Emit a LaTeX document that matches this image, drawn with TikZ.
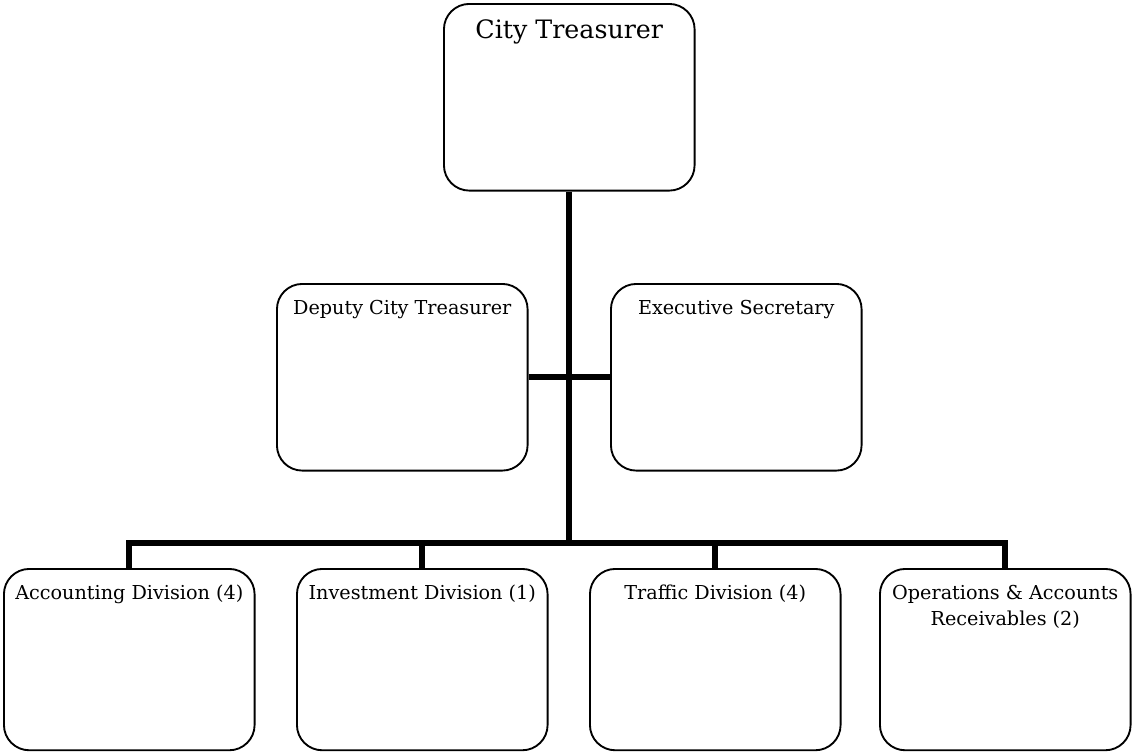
\documentclass[tikz,border=0pt]{standalone}
\usepackage{fontspec}
\setmainfont{DejaVu Serif}
\usepackage{tikz}
\usetikzlibrary{positioning,calc}

\tikzset{
unit/.style={draw=black, line width=1.4pt, rounded corners=19pt, inner sep=0pt, anchor=north west, fill=white},
link/.style={draw=black, line width=4.5pt},
}
% box text sits at the top of the box
\newcommand{\unitlabel}[4]{\parbox[c][#2][t]{#1}{\centering\vspace{#3}#4}}

\begin{document}
\begin{tikzpicture}[x=0.75pt,y=-0.75pt]
\useasboundingbox (0,0) rectangle (1132,753);
\node [unit, name=treasurer] at (443,3)
{\unitlabel{188pt}{140pt}{12pt}{\fontsize{19}{23}\selectfont City Treasurer}};
\node [unit, name=deputy] at (276,283)
{\unitlabel{188pt}{140pt}{12pt}{\fontsize{14.4}{19.5}\selectfont Deputy City Treasurer}};
\node [unit, name=secretary] at (610,283)
{\unitlabel{188pt}{140pt}{12pt}{\fontsize{14.4}{19.5}\selectfont Executive Secretary}};
\node [unit, name=accounting] at (3,568)
{\unitlabel{188pt}{136pt}{12pt}{\fontsize{14.4}{19.5}\selectfont Accounting Division (4)}};
\node [unit, name=investment] at (296,568)
{\unitlabel{188pt}{136pt}{12pt}{\fontsize{14.4}{19.5}\selectfont Investment Division (1)}};
\node [unit, name=traffic] at (589,568)
{\unitlabel{188pt}{136pt}{12pt}{\fontsize{14.4}{19.5}\selectfont Traffic Division (4)}};
\node [unit, name=operations] at (879,568)
{\unitlabel{188pt}{136pt}{12pt}{\fontsize{14.4}{19.5}\selectfont Operations \& Accounts\\ Receivables (2)}};
\coordinate (bus) at (treasurer.south |- 0,543);%bus line

\draw [link] (treasurer.south) -- (bus);
\draw [link] (deputy.east) -- (secretary.west);
\draw [link] (accounting.north) -- (accounting.north |- bus) -- (operations.north |- bus) -- (operations.north);
\draw [link] (investment.north) -- (investment.north |- bus);
\draw [link] (traffic.north) -- (traffic.north |- bus);
\end{tikzpicture}
\end{document}
